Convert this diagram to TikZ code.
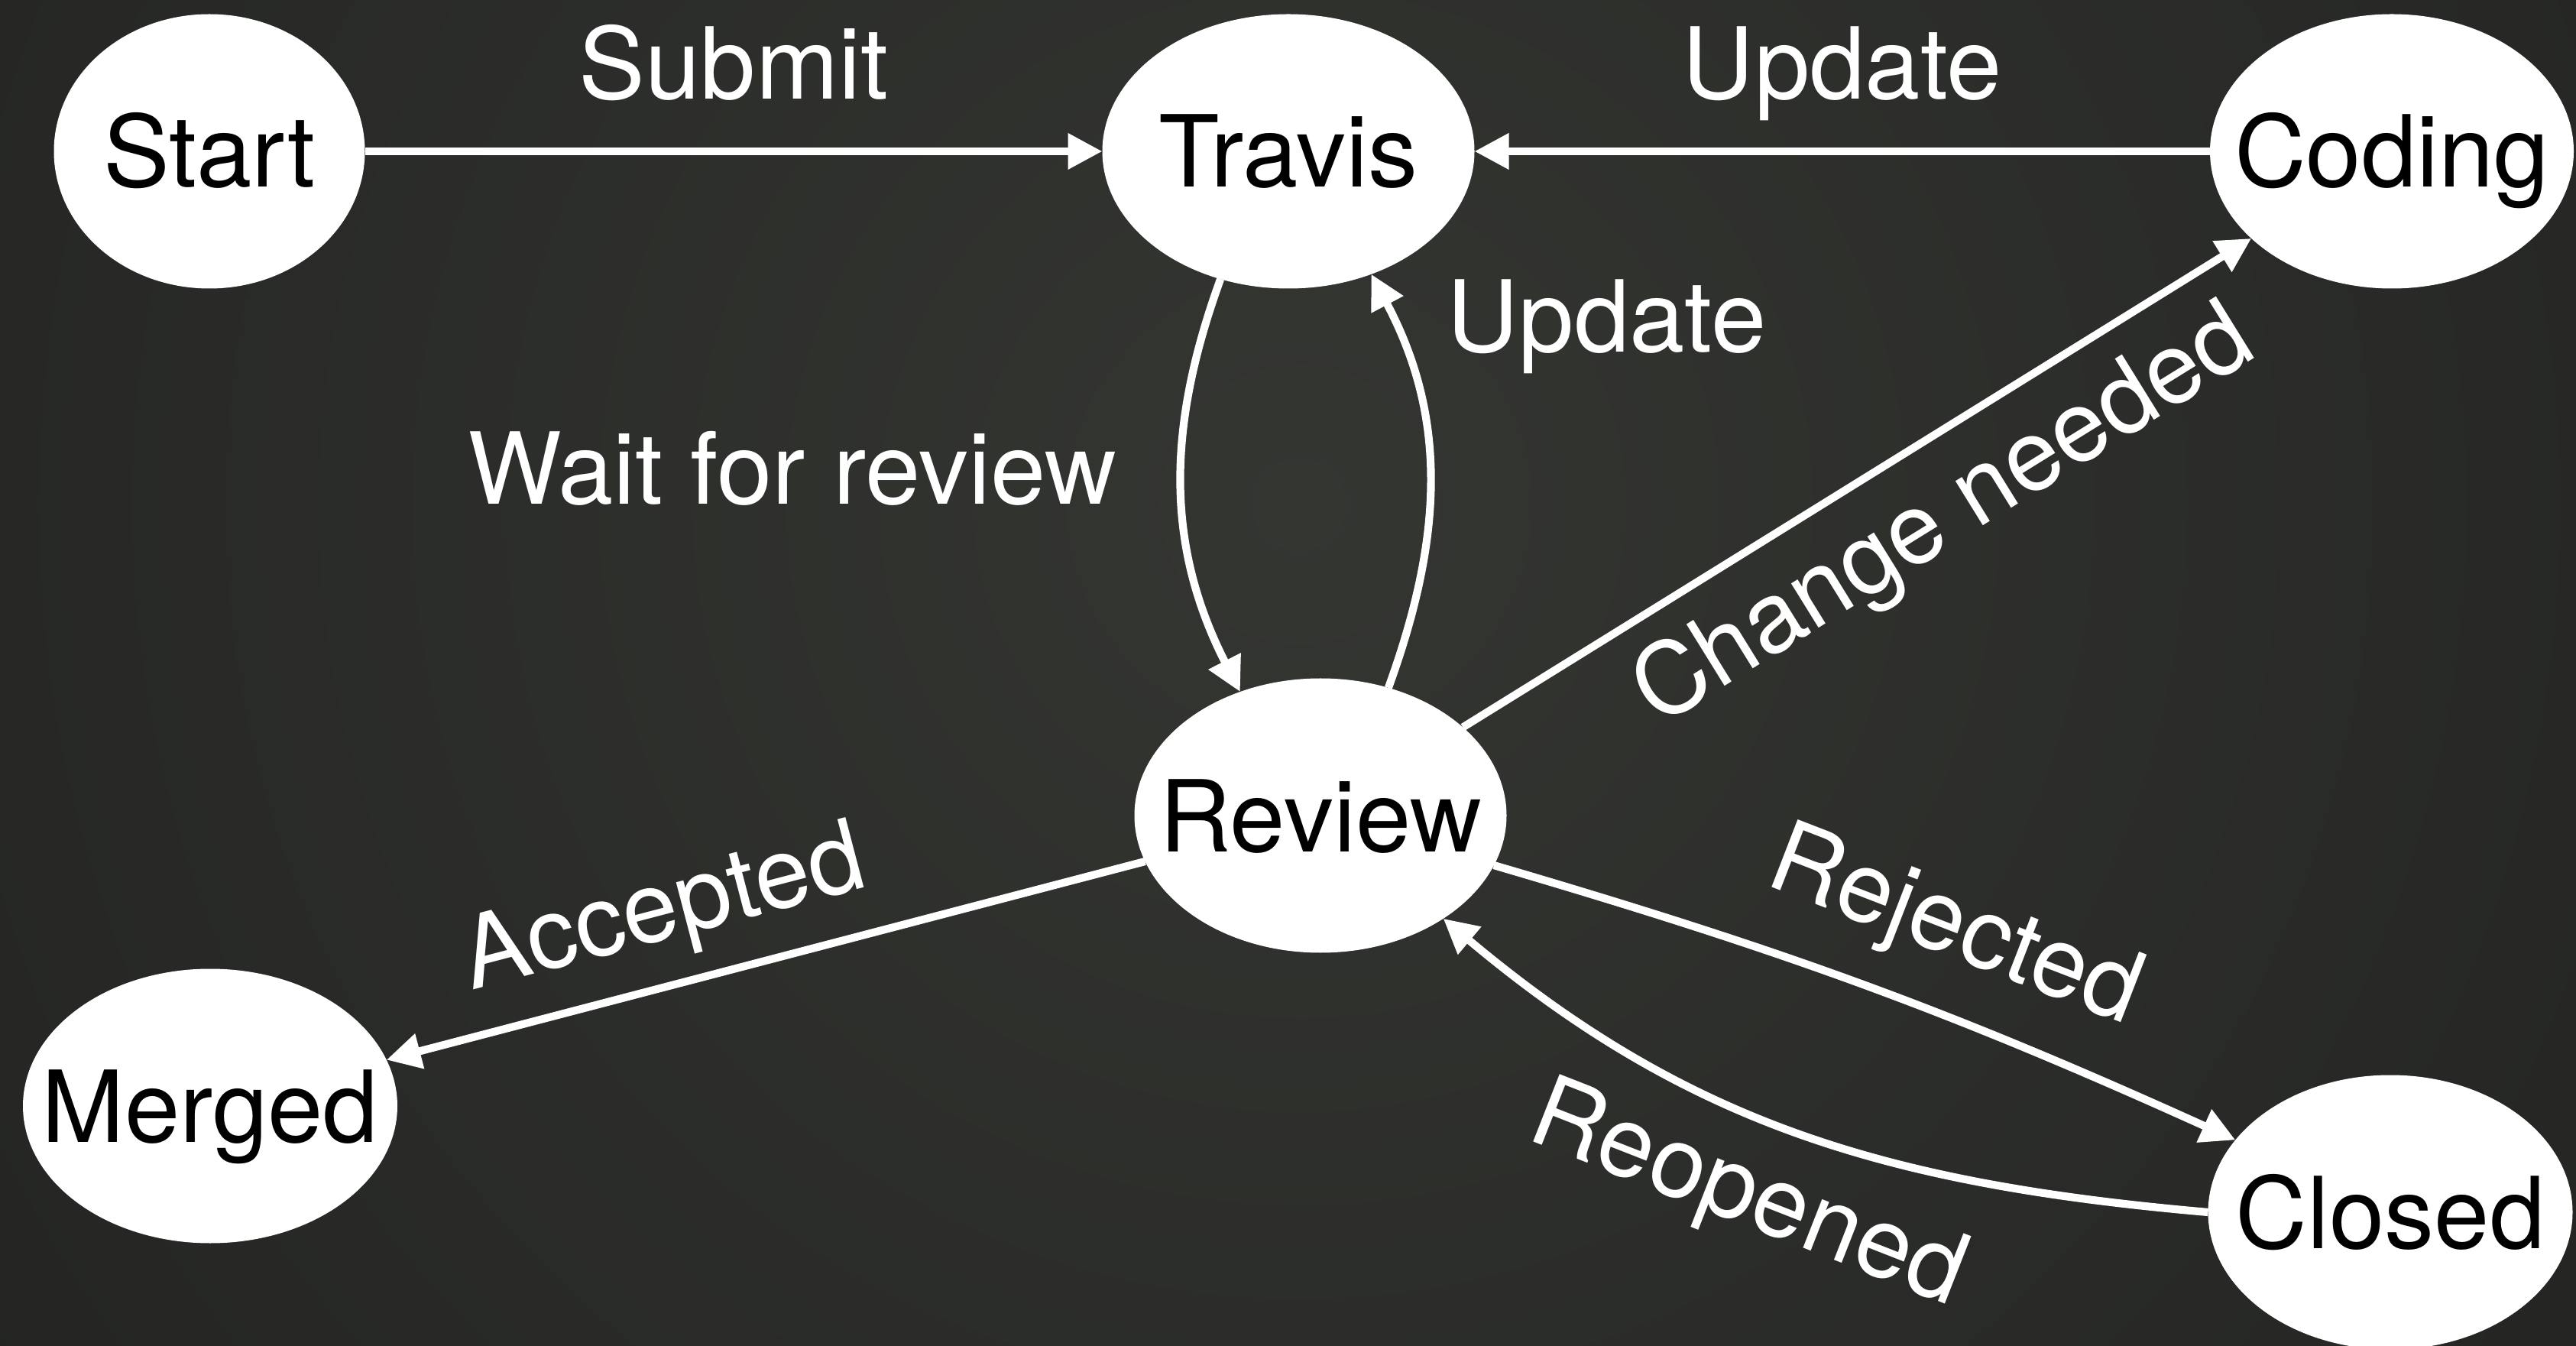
\documentclass[tikz,border=0pt]{standalone}
\usepackage{fontspec}
\setmainfont{TeX Gyre Heros}
\usetikzlibrary{shapes.geometric,arrows.meta}
\definecolor{BgIn}{RGB}{52,54,50}
\definecolor{BgOut}{RGB}{18,18,18}
\pgfdeclareradialshading{BgGlow}{\pgfpointorigin}{color(0bp)=(BgIn); color(50bp)=(BgOut)}
\begin{document}
\begin{tikzpicture}[font=\fontsize{37pt}{44pt}\selectfont]
\tikzset{StateStyle/.style = {shape = ellipse, fill = white, text = black, inner xsep = -1cm, inner ysep = -0.5cm, outer sep = 0pt, text height = 0.94cm, text depth = 0pt, minimum width = 4.87cm, minimum height = 3.59cm},
  LabelStyle/.style = {text = white, inner sep = 0pt, text height = 0.94cm, text depth = 0pt},
  EdgeStyle/.style = {draw = white, line width = 2.9pt, -{Triangle[length=0.45cm,width=0.45cm]}}}
\useasboundingbox (0,0) rectangle (33.71,17.6);
\fill[BgOut] (0,0) rectangle (33.71,17.6);
\begin{scope} \clip (0,0) rectangle (33.71,17.6); \shade[shading=BgGlow] (17,11) circle (22); \end{scope}

\node[StateStyle, minimum width=4.07cm] (Start) at (2.74,15.62) {Start}; \node[StateStyle] (Travis) at (16.86,15.62) {Travis}; \node[StateStyle, minimum width=4.76cm] (Coding) at (31.30,15.62) {Coding};
\node[StateStyle] (Review) at (17.28,6.93) {Review}; \node[StateStyle, minimum width=4.90cm] (Merged) at (2.75,3.13) {Merged}; \node[StateStyle, minimum width=4.77cm] (Closed) at (31.28,1.74) {Closed};

\draw[EdgeStyle] (Start) -- node[LabelStyle, above=0.63cm] (SubmitLabel) {Submit} (Travis);
\draw[EdgeStyle] (Coding) -- node[LabelStyle, above=0.63cm] (UpdateTopLabel) {Update} (Travis);
\draw[EdgeStyle] (Travis.-118) to[out=-110, in=117] node[LabelStyle, pos=0.45, left=0.8cm] (WaitLabel) {Wait for review} (Review.123);
\draw[EdgeStyle] (Review.62) to[out=70, in=-62] node[LabelStyle, pos=0.9, right=0.67cm] (UpdateLabel) {Update} (Travis.-56.6);
\draw[EdgeStyle] (Review) -- node[LabelStyle, pos=0.61, sloped, above=0.55cm] (AcceptedLabel) {Accepted} (Merged);
\draw[EdgeStyle] (Review) -- node[LabelStyle, pos=0.56, sloped, below=0.36cm] (ChangeLabel) {Change needed} (Coding);
\draw[EdgeStyle] (Review.-16) to[bend left=4] node[LabelStyle, pos=0.58, sloped, above=0.7cm] (RejectedLabel) {Rejected} (Closed.155);
\draw[EdgeStyle] (Closed.west) to[out=175, in=-40] node[LabelStyle, pos=0.53, sloped, below=0.39cm] (ReopenedLabel) {Reopened} (Review.-40);
\end{tikzpicture}
\end{document}
